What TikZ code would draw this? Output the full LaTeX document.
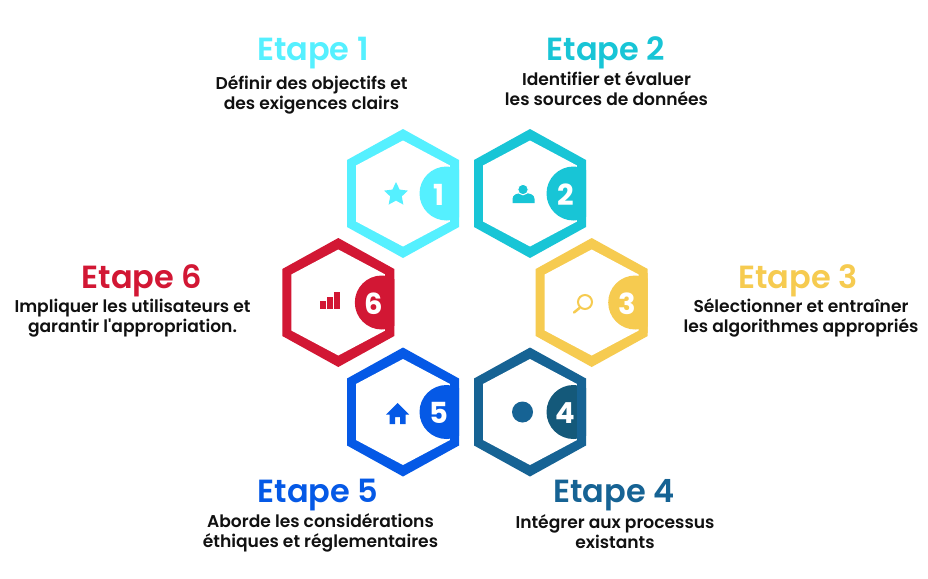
\documentclass[tikz,border=0pt]{standalone}
\usepackage{fontspec}
\usetikzlibrary{shapes.geometric}
\setmainfont{Poppins}[Ligatures=TeXOff,UprightFont=* Medium,BoldFont=* SemiBold]
\newfontfamily\numf{Poppins}[UprightFont=* Bold]
\definecolor{cA}{HTML}{55F0FF}
\definecolor{cB}{HTML}{18C5D6}
\definecolor{cC}{HTML}{F6CB50}
\definecolor{cD}{HTML}{166394}
\definecolor{cDd}{HTML}{14597A}
\definecolor{cE}{HTML}{0559E6}
\definecolor{cF}{HTML}{D21734}
\definecolor{ink}{HTML}{111111}
\tikzset{
  head/.style={font=\fontsize{32}{34}\selectfont\bfseries,anchor=center,inner sep=0pt},
  desc/.style={font=\fontsize{17.1}{20}\selectfont\bfseries,text=ink,align=center,anchor=center,inner sep=0pt},
  num/.style={font=\fontsize{29}{30}\selectfont\numf,text=white,inner sep=0pt},
}
% #1 cx, #2 cy, #3 colour, #4 circle colour, #5 digit, #6 name
\newcommand{\hexa}[6]{
  \begin{scope}[shift={(#1,#2)}]
    \fill[#3] (0,-64.5) -- (56,-33.5) -- (56,33.5) -- (0,64.5) -- (-56,33.5) -- (-56,-33.5) -- cycle;
    \fill[white] (0,-53) -- (47,-28) -- (47,28) -- (0,53) -- (-47,28) -- (-47,-28) -- cycle;
    \begin{scope}
      \clip (0,-64.5) -- (56,-33.5) -- (56,33.5) -- (0,64.5) -- (-56,33.5) -- (-56,-33.5) -- cycle;
      \fill[#4] (43.5,0) circle (27);
      \fill[#3] (47,-30) rectangle (56,30);
    \end{scope}
    \node[num] (#6) at (35.5,1) {#5};
  \end{scope}
}
\begin{document}
\begin{tikzpicture}[x=1pt,y=-1pt]
\useasboundingbox[fill=white] (0,0) rectangle (928,578);
\hexa{403}{193.5}{cA}{cA}{1}{n1}
\hexa{530}{193.5}{cB}{cB}{2}{n2}
\hexa{591.7}{302.5}{cC}{cC}{3}{n3}
\hexa{530}{412}{cD}{cDd}{4}{n4}
\hexa{403}{412}{cE}{cE}{5}{n5}
\hexa{338.3}{302.5}{cF}{cF}{6}{n6}
% icons
\node[star,star points=5,star point ratio=2.05,fill=cA,minimum size=25pt,inner sep=0pt] (i1) at (396,194.5) {};
\fill[cB] (512.5,203) -- (512.5,199) .. controls (512.5,194.5) and (517,193) .. (523.5,193) .. controls (530,193) and (534.5,194.5) .. (534.5,199) -- (534.5,203) -- cycle;
\fill[cB,draw=white,line width=1pt] (523,189.5) circle (5.3);
\draw[cC,line width=2pt] (585,302) circle (7);
\draw[cC,line width=2.5pt,line cap=round] (579.5,308) -- (574,312.5);
\fill[cD] (522.5,412) circle (10.5);
\fill[cE] (397.5,403) -- (409,414.5) -- (405.5,414.5) -- (405.5,424) -- (400,424) -- (400,417) -- (395,417) -- (395,424) -- (389.5,424) -- (389.5,414.5) -- (386,414.5) -- cycle;
\fill[cF] (320,301) rectangle (325.5,308.5);
\fill[cF] (327,297) rectangle (332.5,308.5);
\fill[cF] (334,292) rectangle (340,308.5);
% titles
\node[head,text=cA] (t1) at (313,53) {Etape 1};
\node[desc] (d1) at (311.5,95) {Définir des objectifs et\\des exigences clairs};
\node[head,text=cB] (t2) at (606,52.5) {Etape 2};
\node[desc] (d2) at (606.5,89) {Identifier et évaluer\\les sources de données};
\node[head,text=cC] (t3) at (798,280.5) {Etape 3};
\node[desc] (d3) at (801,318) {Sélectionner et entraîner\\les algorithmes appropriés};
\node[head,text=cD] (t4) at (614,495.5) {Etape 4};
\node[desc] (d4) at (615,532) {Intégrer aux processus\\existants};
\node[head,text=cE] (t5) at (318,495.5) {Etape 5};
\node[desc] (d5) at (320.5,533) {Aborde les considérations\\éthiques et réglementaires};
\node[head,text=cF] (t6) at (142,280.5) {Etape 6};
\node[desc] (d6) at (132.5,318) {Impliquer les utilisateurs et\\garantir l'appropriation.};
\end{tikzpicture}
\end{document}
